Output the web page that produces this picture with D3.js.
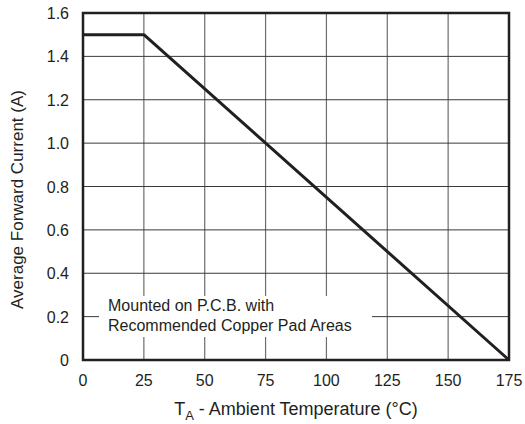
<!DOCTYPE html>
<html>
<head>
<meta charset="utf-8">
<script src="https://cdn.jsdelivr.net/npm/d3@7"></script>
<style>
  body { margin: 0; background: #fff; }
  text { font-family: "Liberation Sans", Arial, sans-serif; fill: #231f20; }
</style>
</head>
<body>
<svg id="chart" width="525" height="424"></svg>
<script>
// data
var temps = [0, 25, 175];
var currents = [1.5, 1.5, 0];
var xTicks = [0, 25, 50, 75, 100, 125, 150, 175];
var yTicks = [0, 0.2, 0.4, 0.6, 0.8, 1.0, 1.2, 1.4, 1.6];
var noteLines = ["Mounted on P.C.B. with", "Recommended Copper Pad Areas"];

var margin = {top: 13, right: 16, bottom: 64, left: 83},
    width = 525 - margin.left - margin.right,
    height = 424 - margin.top - margin.bottom;

var svg = d3.select("#chart")
  .append("g")
    .attr("transform", "translate(" + margin.left + "," + margin.top + ")");

var x = d3.scaleLinear().domain([0, 175]).range([0, width]);
var y = d3.scaleLinear().domain([0, 1.6]).range([height, 0]);

// grid
svg.selectAll("vgrid")
  .data(xTicks)
  .enter()
  .append("line")
    .attr("x1", function(d){ return x(d); })
    .attr("x2", function(d){ return x(d); })
    .attr("y1", 0)
    .attr("y2", height)
    .attr("stroke", "#6d6e71")
    .attr("stroke-width", 1.2);

svg.selectAll("hgrid")
  .data(yTicks)
  .enter()
  .append("line")
    .attr("x1", 0)
    .attr("x2", width)
    .attr("y1", function(d){ return y(d); })
    .attr("y2", function(d){ return y(d); })
    .attr("stroke", "#3a3a3a")
    .attr("stroke-width", 1);

// white box behind the note
svg.append("rect")
  .attr("x", 16)
  .attr("y", 283)
  .attr("width", 273)
  .attr("height", 41)
  .attr("fill", "#fff");

svg.selectAll("note")
  .data(noteLines)
  .enter()
  .append("text")
    .text(function(d){ return d; })
    .attr("x", 25)
    .attr("y", function(d,i){ return 298 + i*20; })
    .style("font-size", "16px");

// frame
svg.append("rect")
  .attr("x", 0)
  .attr("y", 0)
  .attr("width", width)
  .attr("height", height)
  .attr("fill", "none")
  .attr("stroke", "#231f20")
  .attr("stroke-width", 2.5);

// derating line
var line = d3.line()
  .x(function(d,i){ return x(temps[i]); })
  .y(function(d,i){ return y(currents[i]); });

svg.append("path")
  .datum(temps)
  .attr("d", line)
  .attr("fill", "none")
  .attr("stroke", "#231f20")
  .attr("stroke-width", 3)
  .attr("stroke-linejoin", "round");

// tick labels
svg.selectAll("xlab")
  .data(xTicks)
  .enter()
  .append("text")
    .text(function(d){ return d; })
    .attr("x", function(d){ return x(d); })
    .attr("y", height + 26)
    .attr("text-anchor", "middle")
    .style("font-size", "16px");

svg.selectAll("ylab")
  .data(yTicks)
  .enter()
  .append("text")
    .text(function(d){ return d === 0 ? "0" : d.toFixed(1); })
    .attr("x", -14)
    .attr("y", function(d){ return y(d) + 6; })
    .attr("text-anchor", "end")
    .style("font-size", "16px");

// axis titles
var xt = svg.append("text")
  .attr("x", width/2)
  .attr("y", height + 55)
  .attr("text-anchor", "middle")
  .style("font-size", "18px");
xt.append("tspan").text("T");
xt.append("tspan").text("A").attr("dy", 5).style("font-size", "13px");
xt.append("tspan").text(" - Ambient Temperature (\u00B0C)").attr("dy", -5);

svg.append("text")
  .text("Average Forward Current (A)")
  .attr("transform", "translate(-60," + (height/2 + 13) + ")rotate(-90)")
  .attr("text-anchor", "middle")
  .style("font-size", "17px");
</script>
</body>
</html>
